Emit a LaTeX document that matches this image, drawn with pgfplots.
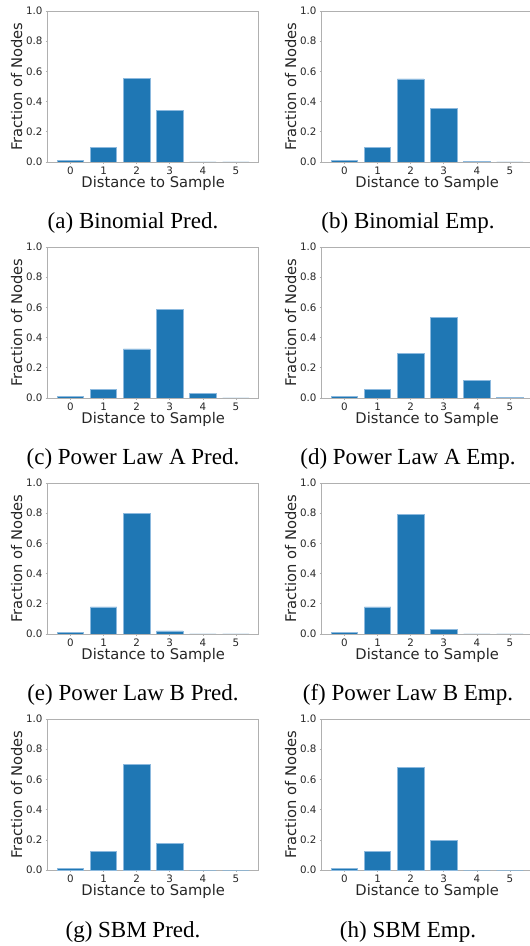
\documentclass[border=0pt]{standalone}
\usepackage{fontspec}
\setmainfont{Liberation Serif}
\newfontfamily\dejavu{DejaVu Sans}
\usepackage{pgfplots}
\pgfplotsset{compat=1.18}
\definecolor{C0}{RGB}{31,119,180}
\definecolor{edgeblue}{RGB}{140,185,222}
\definecolor{framegray}{RGB}{176,176,176}
\pgfplotsset{
  panel/.style={
    anchor=south west,
    scale only axis, width=211pt, height=151pt,
    xmin=-0.69, xmax=5.69, ymin=0, ymax=1,
    xtick={0,1,2,3,4,5},
    ytick={0,0.2,0.4,0.6,0.8,1},
    axis line style={draw=framegray, line width=0.8pt},
    major tick length=2pt,
    tick style={draw=framegray, line width=0.6pt},
    tick align=outside,
    xtick pos=bottom, ytick pos=left,
    /pgf/number format/assume math mode=true,
    yticklabel style={/pgf/number format/.cd, fixed, fixed zerofill, precision=1, /tikz/.cd,
      font=\dejavu\fontsize{10.3}{12}\selectfont, text=black!85, anchor=east, inner sep=0pt, xshift=-3pt},
    xticklabel style={font=\dejavu\fontsize{10.3}{12}\selectfont, text=black!85, anchor=north, inner sep=0pt, yshift=-2.5pt},
    xlabel={Distance to Sample},
    ylabel={Fraction of Nodes},
    label style={font=\dejavu\fontsize{14.7}{16}\selectfont, text=black!85},
    xlabel style={at={(axis description cs:0.5,-0.139)}, anchor=center, inner sep=0pt},
    ylabel style={at={(axis description cs:-0.147,0.5)}, anchor=center, inner sep=0pt},
    ybar, bar width=0.8, bar shift=0pt,
  },
  barstyle/.style={fill=C0, draw=edgeblue, line width=0.7pt},
}
\newcommand{\subcap}[3]{\node[anchor=base, inner sep=0pt, font=\fontsize{23}{26}\selectfont] at (#1pt,#2pt) {#3};}
\begin{document}
\begin{tikzpicture}[x=1pt,y=1pt]
\useasboundingbox (0,0) rectangle (530,946);
% Row 1
\begin{axis}[panel, at={(47.7pt,784pt)}]
\addplot[barstyle] coordinates {(0,0.013) (1,0.097) (2,0.556) (3,0.344) (4,0.0) (5,0.0)};
\end{axis}
\subcap{133}{717}{(a) Binomial Pred.}
\begin{axis}[panel, at={(321.7pt,784pt)}]
\addplot[barstyle] coordinates {(0,0.013) (1,0.099) (2,0.550) (3,0.353) (4,0.003) (5,0.0)};
\end{axis}
\subcap{408}{717}{(b) Binomial Emp.}
% Row 2
\begin{axis}[panel, at={(47.7pt,548pt)}]
\addplot[barstyle] coordinates {(0,0.013) (1,0.055) (2,0.325) (3,0.589) (4,0.033) (5,0.0)};
\end{axis}
\subcap{133}{481}{(c) Power Law A Pred.}
\begin{axis}[panel, at={(321.7pt,548pt)}]
\addplot[barstyle] coordinates {(0,0.013) (1,0.057) (2,0.294) (3,0.536) (4,0.115) (5,0.004)};
\end{axis}
\subcap{408}{481}{(d) Power Law A Emp.}
% Row 3
\begin{axis}[panel, at={(47.7pt,312pt)}]
\addplot[barstyle] coordinates {(0,0.013) (1,0.179) (2,0.801) (3,0.020) (4,0.0) (5,0.0)};
\end{axis}
\subcap{133}{245}{(e) Power Law B Pred.}
\begin{axis}[panel, at={(321.7pt,312pt)}]
\addplot[barstyle] coordinates {(0,0.013) (1,0.179) (2,0.790) (3,0.033) (4,0.0) (5,0.0)};
\end{axis}
\subcap{408}{245}{(f) Power Law B Emp.}
% Row 4
\begin{axis}[panel, at={(47.7pt,76pt)}]
\addplot[barstyle] coordinates {(0,0.013) (1,0.124) (2,0.700) (3,0.174) (4,0.0) (5,0.0)};
\end{axis}
\subcap{133}{9}{(g) SBM Pred.}
\begin{axis}[panel, at={(321.7pt,76pt)}]
\addplot[barstyle] coordinates {(0,0.013) (1,0.124) (2,0.682) (3,0.194) (4,0.0) (5,0.0)};
\end{axis}
\subcap{408}{9}{(h) SBM Emp.}
\end{tikzpicture}
\end{document}
